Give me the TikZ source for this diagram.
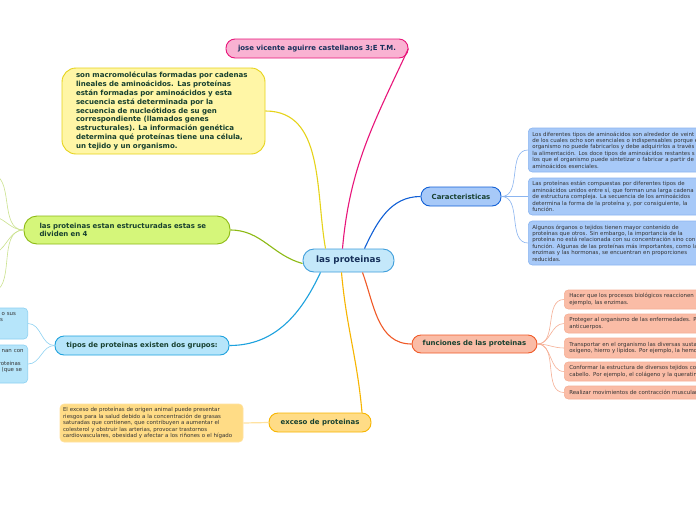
\documentclass[tikz,border=0pt]{standalone}
\usepackage{fontspec}
\setmainfont{DejaVu Sans}
\definecolor{pinkfill}{HTML}{F9B2D2}
\definecolor{pinkline}{HTML}{E8157A}
\definecolor{notefill}{HTML}{FFF6A6}
\definecolor{noteline}{HTML}{E6D31A}
\definecolor{greenfill}{HTML}{D5F67A}
\definecolor{greenline}{HTML}{8DBA14}
\definecolor{greentwig}{HTML}{CBE28E}
\definecolor{skyfill}{HTML}{B6E5FA}
\definecolor{skyline}{HTML}{1EA2DE}
\definecolor{skytwig}{HTML}{8CD1F2}
\definecolor{bluefill}{HTML}{A7C9F8}
\definecolor{blueline}{HTML}{1160D6}
\definecolor{bluetwig}{HTML}{8BB5F0}
\definecolor{centerfill}{HTML}{C4E8FA}
\definecolor{centerline}{HTML}{3E9EDB}
\definecolor{redfill}{HTML}{FABCA6}
\definecolor{redline}{HTML}{F05A28}
\definecolor{redtwig}{HTML}{F6AF95}
\definecolor{goldfill}{HTML}{FFDC86}
\definecolor{goldline}{HTML}{F7B500}
\definecolor{goldtwig}{HTML}{FFE2A0}
\definecolor{topictext}{HTML}{17402F}
\definecolor{navytext}{HTML}{16305A}
\definecolor{leaftext}{HTML}{333333}

\begin{document}
\begin{tikzpicture}[x=1pt,y=-1pt,
  topic/.style={draw,rounded corners=9pt,line width=0.9pt,inner sep=0pt,font=\fontsize{6.95}{8.3}\selectfont\bfseries,text=topictext},
  leaf/.style={draw,rounded corners=4pt,line width=0.6pt,inner ysep=0pt,inner xsep=4pt,align=left,font=\fontsize{5.45}{6.4}\selectfont,text=leaftext},
  branch/.style={line width=1.1pt},
  twig/.style={line width=0.6pt}]
  \useasboundingbox (0,0) rectangle (696,520);
  \clip (0,0) rectangle (696,520);
  \fill[white] (0,0) rectangle (696,520);

  \node[topic,fill=centerfill,draw=centerline,rounded corners=11pt,minimum width=91pt,minimum height=23pt,font=\fontsize{8.8}{10}\selectfont\bfseries,text=navytext] (central) at (348.5,260.5) {las proteinas};
  \node[topic,fill=pinkfill,draw=pinkline,minimum width=182pt,minimum height=19pt,text=navytext] (autor) at (317,48.5) {jose vicente aguirre castellanos 3;E T.M.};
  \node[topic,fill=notefill,draw=noteline,rounded corners=14pt,minimum width=203pt,minimum height=86pt,text width=175pt,align=left,font=\fontsize{7.05}{8.8}\selectfont\bfseries] (definicion) at (163.5,111) {son macromoléculas formadas por cadenas\\lineales de aminoácidos. Las proteínas\\están formadas por aminoácidos y esta\\secuencia está determinada por la\\secuencia de nucleótidos de su gen\\correspondiente (llamados genes\\estructurales). La información genética\\determina qué proteínas tiene una célula,\\un tejido y un organismo.};
  \node[topic,fill=greenfill,draw=greenline,rounded corners=13pt,minimum width=206pt,minimum height=28pt,text width=175pt,align=left] (estructura) at (127,230) {las proteinas estan estructuradas estas se\\dividen en 4};
  \node[topic,fill=skyfill,draw=skyline,minimum width=174pt,minimum height=19pt] (tipos) at (142,345.5) {tipos de proteinas existen dos grupos:};
  \node[topic,fill=bluefill,draw=blueline,minimum width=80pt,minimum height=19pt] (caract) at (461,196.5) {Caracteristicas};
  \node[topic,fill=redfill,draw=redline,minimum width=125pt,minimum height=18pt] (funciones) at (474.5,344) {funciones de las proteinas};
  \node[topic,fill=goldfill,draw=goldline,minimum width=102pt,minimum height=19pt] (exceso) at (320,422.5) {exceso de proteinas};

  \node[leaf,fill=bluefill,draw=bluetwig,anchor=west,minimum height=44pt,text width=230pt] (caract1) at (528,150) {Los diferentes tipos de aminoácidos son alrededor de veint\\de los cuales ocho son esenciales o indispensables porque e\\organismo no puede fabricarlos y debe adquirirlos a través\\la alimentación. Los doce tipos de aminoácidos restantes s\\los que el organismo puede sintetizar o fabricar a partir de\\aminoácidos esenciales.};
  \node[leaf,fill=bluefill,draw=bluetwig,anchor=west,minimum height=37pt,text width=230pt] (caract2) at (528,196.5) {Las proteínas están compuestas por diferentes tipos de\\aminoácidos unidos entre sí, que forman una larga cadena\\de estructura compleja. La secuencia de los aminoácidos\\determina la forma de la proteína y, por consiguiente, la\\función.};
  \node[leaf,fill=bluefill,draw=bluetwig,anchor=west,minimum height=44pt,text width=230pt] (caract3) at (528,243) {Algunos órganos o tejidos tienen mayor contenido de\\proteínas que otros. Sin embargo, la importancia de la\\proteína no está relacionada con su concentración sino con\\función. Algunas de las proteínas más importantes, como la\\enzimas y las hormonas, se encuentran en proporciones\\reducidas.};

  \node[leaf,fill=redfill,draw=redtwig,anchor=west,inner xsep=5pt,minimum height=19pt,text width=200pt] (funcion1) at (564,299.5) {Hacer que los procesos biológicos reaccionen\\ejemplo, las enzimas.};
  \node[leaf,fill=redfill,draw=redtwig,anchor=west,inner xsep=5pt,minimum height=19pt,text width=200pt] (funcion2) at (564,323.5) {Proteger al organismo de las enfermedades. P\\anticuerpos.};
  \node[leaf,fill=redfill,draw=redtwig,anchor=west,inner xsep=5pt,minimum height=20pt,text width=200pt] (funcion3) at (564,348) {Transportar en el organismo las diversas susta\\oxígeno, hierro y lípidos. Por ejemplo, la hemo};
  \node[leaf,fill=redfill,draw=redtwig,anchor=west,inner xsep=5pt,minimum height=19pt,text width=200pt] (funcion4) at (564,371.5) {Conformar la estructura de diversos tejidos co\\cabello. Por ejemplo, el colágeno y la queratin};
  \node[leaf,fill=redfill,draw=redtwig,anchor=west,inner xsep=5pt,minimum height=13pt,text width=200pt] (funcion5) at (564,392.5) {Realizar movimientos de contracción muscular};

  \node[leaf,fill=goldfill,draw=goldtwig,inner xsep=3pt,minimum width=183pt,minimum height=38pt,text width=177pt] (riesgo) at (151.5,423) {El exceso de proteínas de origen animal puede presentar\\riesgos para la salud debido a la concentración de grasas\\saturadas que contienen, que contribuyen a aumentar el\\colesterol y obstruir las arterias, provocar trastornos\\cardiovasculares, obesidad y afectar a los riñones o el hígado};

  \node[leaf,fill=skyfill,draw=skytwig,anchor=east,minimum height=31pt,text width=100pt] (grupo1) at (28,323.5) {\hspace*{78pt}o sus\\\hspace*{76.5pt}s\\\mbox{}\\\mbox{}};
  \node[leaf,fill=skyfill,draw=skytwig,anchor=east,minimum height=38pt,text width=100pt] (grupo2) at (28,364) {\hspace*{78pt}nan con\\\mbox{}\\\hspace*{75pt}roteinas\\\hspace*{78pt}(que se\\\mbox{}};

  \coordinate (nivel1) at (-10,174);
  \coordinate (nivel2) at (-10,216);
  \coordinate (nivel3) at (-10,254);
  \coordinate (nivel4) at (-10,292);

  \draw[branch,pinkline] ([xshift=-6pt]central.north) to[out=85,in=-115] (autor.east);
  \draw[branch,noteline] ([xshift=-23pt]central.north) to[out=100,in=0] (definicion.east);
  \draw[branch,greenline] ([yshift=-3pt]central.west) to[out=165,in=0] (estructura.east);
  \draw[branch,skyline] ([xshift=-28pt]central.south) to[out=-115,in=0] (tipos.east);
  \draw[branch,goldline] ([xshift=-7pt]central.south) to[out=-85,in=95] ([xshift=42pt]exceso.north);
  \draw[branch,redline] ([xshift=14pt]central.south) to[out=-70,in=180] (funciones.west);
  \draw[branch,blueline] ([xshift=16pt]central.north) to[out=65,in=180] (caract.west);

  \foreach \n in {caract1,caract2,caract3}
    \draw[twig,bluetwig] (caract.east) to[out=0,in=180] (\n.west);
  \foreach \n in {funcion1,funcion2,funcion3,funcion4,funcion5}
    \draw[twig,redtwig] (funciones.east) to[out=0,in=180] (\n.west);
  \foreach \n in {grupo1,grupo2}
    \draw[twig,skytwig] (tipos.west) to[out=180,in=0] (\n.east);
  \foreach \n in {nivel1,nivel2,nivel3,nivel4}
    \draw[twig,greentwig] (estructura.west) to[out=180,in=0] (\n);
  \draw[twig,goldtwig,line width=1.2pt] (exceso.west) -- (riesgo.east);
\end{tikzpicture}
\end{document}
